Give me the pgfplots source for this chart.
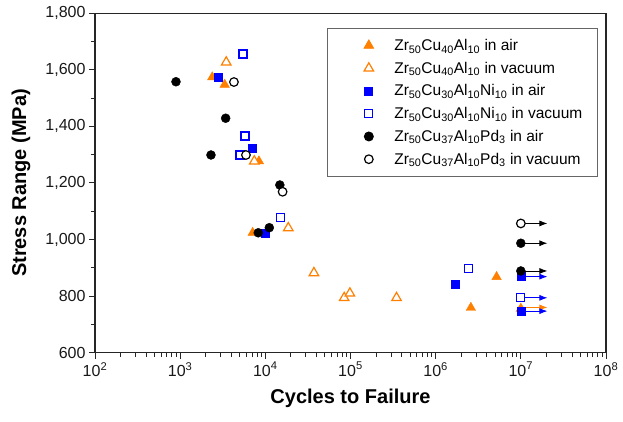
\documentclass[border=0pt]{standalone}
\usepackage{pgfplots}
\pgfplotsset{compat=1.18}
\usepackage{fontspec}
\setmainfont{Liberation Sans}
\usetikzlibrary{arrows.meta}
\definecolor{orng}{RGB}{255,127,0}
\definecolor{blu}{RGB}{0,0,255}
\begin{document}
\begin{tikzpicture}
\begin{axis}[
  scale only axis, width=511pt, height=339.4pt,
  xmode=log, xmin=1e2, xmax=1e8, ymin=600, ymax=1800,
  xtick={1e2,1e3,1e4,1e5,1e6,1e7,1e8},
  minor xtick={2e2,3e2,4e2,5e2,6e2,7e2,8e2,9e2,2e3,3e3,4e3,5e3,6e3,7e3,8e3,9e3,2e4,3e4,4e4,5e4,6e4,7e4,8e4,9e4,2e5,3e5,4e5,5e5,6e5,7e5,8e5,9e5,2e6,3e6,4e6,5e6,6e6,7e6,8e6,9e6,2e7,3e7,4e7,5e7,6e7,7e7,8e7,9e7},
  xticklabels={10\textsuperscript{2},10\textsuperscript{3},10\textsuperscript{4},10\textsuperscript{5},10\textsuperscript{6},10\textsuperscript{7},10\textsuperscript{8}},
  ytick={600,800,1000,1200,1400,1600,1800},
  minor y tick num=1,
  tick align=outside, tick pos=left,
  major tick length=6pt, minor tick length=4pt,
  axis line style={line width=1.1pt, black!85},
  every tick/.style={line width=1pt, black!85},
  /pgf/number format/1000 sep={,},
  /pgf/number format/assume math mode=true,
  tick label style={font=\fontsize{16}{19}\selectfont, black!90},
  xlabel={Cycles to Failure}, ylabel={Stress Range (MPa)},
  label style={font=\bfseries\fontsize{20}{24}\selectfont},
  xlabel style={at={(axis description cs:0.5,-0.1335)}, anchor=center},
  ylabel style={at={(axis description cs:-0.145,0.5)}, anchor=center},
  legend style={at={(axis description cs:0.984,0.956)}, anchor=north east,
    draw=black!60, line width=0.9pt, font=\fontsize{15.5}{18}\selectfont,
    inner xsep=13pt, inner ysep=8.5pt, row sep=6pt},
  legend cell align=left,
  mymarks/.style={only marks, legend image code/.code={\path (0pt,0pt) (51pt,0pt); \draw[mark repeat=2,mark phase=2,##1] plot coordinates {(0pt,0pt)(28pt,0pt)(51pt,0pt)};}},
]
% run-out arrows
\addplot[forget plot, black, line width=0.8pt, -{Latex[length=8pt,width=6pt]}] coordinates {(1e7,1057) (2.05e7,1057)};
\addplot[forget plot, black, line width=0.8pt, -{Latex[length=8pt,width=6pt]}] coordinates {(1e7,987) (2.05e7,987)};
\addplot[forget plot, black, line width=0.8pt, -{Latex[length=8pt,width=6pt]}] coordinates {(1e7,889) (2.05e7,889)};
\addplot[forget plot, blu, line width=0.8pt, -{Latex[length=8pt,width=6pt]}] coordinates {(1e7,869) (2.05e7,869)};
\addplot[forget plot, blu, line width=0.8pt, -{Latex[length=8pt,width=6pt]}] coordinates {(1e7,794) (2.05e7,794)};
\addplot[forget plot, orng, line width=0.8pt, -{Latex[length=8pt,width=6pt]}] coordinates {(1e7,760) (2.05e7,760)};
\addplot[forget plot, blu, line width=0.8pt, -{Latex[length=8pt,width=6pt]}] coordinates {(1e7,747) (2.05e7,747)};
% Zr50Cu40Al10 in air
\addplot[mymarks, mark=triangle*, mark size=5.5pt, color=orng, mark options={fill=orng}] coordinates {
(2380,1574) (3330,1548) (8410,1277) (7100,1024) (5.19e6,868) (2.59e6,759) (1e7,756)};
\addlegendentry{Zr\textsubscript{50}Cu\textsubscript{40}Al\textsubscript{10} in air}
% Zr50Cu40Al10 in vacuum
\addplot[mymarks, mark=triangle*, mark size=5.5pt, color=orng, mark options={fill=white, line width=1.2pt}] coordinates {
(3475,1627) (7420,1277) (18600,1041) (37200,882) (84300,794) (98400,810) (347000,794)};
\addlegendentry{Zr\textsubscript{50}Cu\textsubscript{40}Al\textsubscript{10} in vacuum}
% Zr50Cu30Al10Ni10 in air
\addplot[mymarks, mark=square*, mark size=4pt, color=blu, mark options={fill=blu}] coordinates {
(2830,1575) (7100,1324) (9890,1024) (1.71e6,842) (1e7,869) (1e7,747)};
\addlegendentry{Zr\textsubscript{50}Cu\textsubscript{30}Al\textsubscript{10}Ni\textsubscript{10} in air}
% Zr50Cu30Al10Ni10 in vacuum
\addplot[mymarks, mark=square*, mark size=4pt, color=blu, mark options={fill=white, line width=1.2pt}] coordinates {
(5460,1656) (5770,1366) (5030,1299) (15150,1077) (2.41e6,898) (1e7,794)};
\addlegendentry{Zr\textsubscript{50}Cu\textsubscript{30}Al\textsubscript{10}Ni\textsubscript{10} in vacuum}
% Zr50Cu37Al10Pd3 in air
\addplot[mymarks, mark=*, mark size=4.5pt, color=black, mark options={fill=black}] coordinates {
(893,1558) (3420,1429) (2300,1299) (14800,1193) (8260,1024) (11130,1042) (1e7,987) (1e7,889)};
\addlegendentry{Zr\textsubscript{50}Cu\textsubscript{37}Al\textsubscript{10}Pd\textsubscript{3} in air}
% Zr50Cu37Al10Pd3 in vacuum
\addplot[mymarks, mark=*, mark size=4.3pt, color=black, mark options={fill=white, line width=1.2pt}] coordinates {
(4280,1557) (5920,1299) (15950,1169) (1e7,1057)};
\addlegendentry{Zr\textsubscript{50}Cu\textsubscript{37}Al\textsubscript{10}Pd\textsubscript{3} in vacuum}
\end{axis}
\pgfresetboundingbox
\path ([xshift=-95pt,yshift=-69.3pt]current axis.south west) rectangle ([xshift=17pt,yshift=13.3pt]current axis.north east);
\end{tikzpicture}
\end{document}
